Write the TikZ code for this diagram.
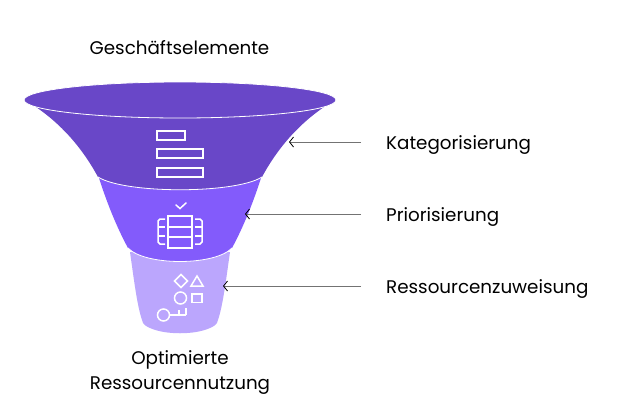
\documentclass[tikz,border=0pt]{standalone}
\usepackage{fontspec}
\setmainfont{Poppins}
\usetikzlibrary{arrows.meta}

\definecolor{funnelone}{HTML}{6947C8}
\definecolor{funneltwo}{HTML}{835BFB}
\definecolor{funnelthree}{HTML}{BBA6FD}

\tikzset{
  sidelabel/.style={anchor=west, inner xsep=25pt, inner ysep=0pt, font=\fontsize{18.3}{22}\selectfont},
  endlabel/.style={align=center, font=\fontsize{18.3}{24.5}\selectfont},
  pointer/.style={-{Straight Barb[length=4pt,width=10pt,color=black,line width=0.8pt]}, color=gray!90!black, line width=0.8pt},
  icon/.style={draw=white, line width=1.5pt, fill=none},
  rim/.style={draw=white, line width=0.8pt}
}

\begin{document}
\begin{tikzpicture}[x=1pt,y=-1pt]
  \useasboundingbox (0,0) rectangle (625,408);

  % funnel sections
  \fill[color=funnelthree] (130,252) .. controls (134,280) and (137,305) .. (142,320)
    .. controls (143,325) and (146,326) .. (150,328)
    .. controls (165,335) and (195,335) .. (210,328)
    .. controls (214,326) and (217,325) .. (218,320)
    .. controls (223,305) and (226,280) .. (230,252) -- cycle;
  \fill[color=funneltwo] (99,178) .. controls (106,200) and (116,226) .. (128,248)
    .. controls (145,266) and (215,266) .. (232,248)
    .. controls (244,226) and (254,200) .. (261,178) -- cycle;
  \fill[color=funnelone] (25,100) .. controls (52,116) and (78,140) .. (98,177)
    .. controls (125,194) and (235,194) .. (262,177)
    .. controls (282,140) and (308,116) .. (335,100) -- cycle;
  \draw[rim] (128,248) .. controls (145,266) and (215,266) .. (232,248);
  \draw[rim] (98,177) .. controls (125,194) and (235,194) .. (262,177);
  \draw[color=white, line width=0.8pt, fill=funnelone] (180,100) ellipse (156 and 18);

  % icon of the first section
  \draw[icon] (157,131) rectangle (185,140);
  \draw[icon] (157,149) rectangle (203,158);
  \draw[icon] (157,168) rectangle (203,177);

  % icon of the second section
  \draw[icon, line cap=round] (176,205) -- (180,208.5) -- (186,203);
  \draw[icon] (168,216) rectangle (192,248);
  \draw[icon] (168,227) -- (192,227);
  \draw[icon] (168,237) -- (192,237);
  \draw[icon] (165,219) -- (160,219) -- (158,221) -- (158,242) -- (160,244) -- (165,244);
  \draw[icon] (195,219) -- (200,219) -- (202,221) -- (202,242) -- (200,244) -- (195,244);
  \foreach \y in {227,236} {
    \draw[icon] (158,\y) -- (165,\y);
    \draw[icon] (195,\y) -- (202,\y);
  }

  % icon of the third section
  \draw[icon] (181,274.5) -- (187.5,281) -- (181,287.5) -- (174.5,281) -- cycle;
  \draw[icon] (191,286) -- (197,276) -- (203,286) -- cycle;
  \draw[icon] (180.5,298) circle (6);
  \draw[icon] (192,294) rectangle (202,302.5);
  \draw[icon] (163.5,315) circle (6);
  \draw[icon] (169.5,315) -- (186,315) (179,315) -- (179,310) (186,315) -- (186,308);

  % labels
  \node[endlabel] (top) at (179.5,48) {Geschäftselemente};
  \node[endlabel] (bottom) at (180,372.5) {Optimierte\\Ressourcennutzung};

  \node[sidelabel] (kategorie) at (361,145) {Kategorisierung};
  \node[sidelabel] (prioritaet) at (361,217) {Priorisierung};
  \node[sidelabel] (zuweisung) at (361,289) {Ressourcenzuweisung};

  \coordinate (kategorieend) at (289,142);
  \coordinate (prioritaetend) at (245,214);
  \coordinate (zuweisungend) at (223,286);

  \draw[pointer] (kategorie.west |- kategorieend) -- (kategorieend);
  \draw[pointer] (prioritaet.west |- prioritaetend) -- (prioritaetend);
  \draw[pointer] (zuweisung.west |- zuweisungend) -- (zuweisungend);
\end{tikzpicture}
\end{document}
